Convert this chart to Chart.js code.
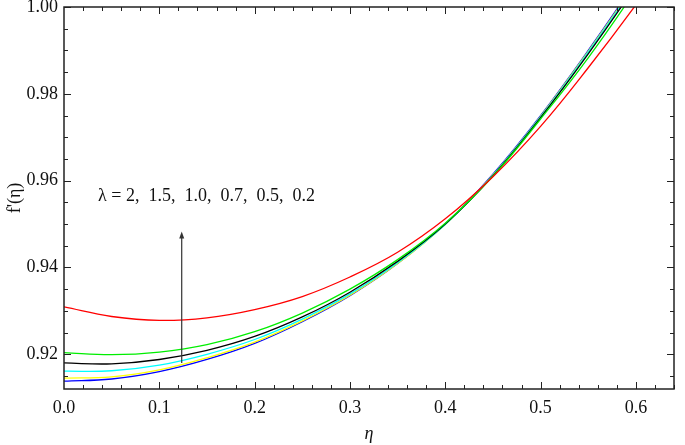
<!DOCTYPE html>
<html><head><meta charset="utf-8">
<script src="https://cdn.jsdelivr.net/npm/chart.js@4/dist/chart.umd.min.js"></script>
<style>html,body{margin:0;padding:0;background:#fff}</style>
</head><body>
<canvas id="c" width="685" height="445"></canvas>
<script>
// eta grid (x values)
const eta = [0, 0.05, 0.10, 0.15, 0.20, 0.25, 0.30, 0.35, 0.40, 0.45, 0.50, 0.55, 0.60, 0.65];
// f'(eta) for each lambda
const lam02 = [0.9309, 0.9287, 0.9278, 0.9284, 0.9303, 0.9333, 0.9378, 0.9435, 0.9512, 0.9609, 0.9725, 0.9860, 1.0005, 1.0160]; // red
const lam05 = [0.9204, 0.9199, 0.9205, 0.9222, 0.9252, 0.9295, 0.9350, 0.9418, 0.9502, 0.9610, 0.9742, 0.9883, 1.0040, 1.0210]; // green
const lam07 = [0.9180, 0.9178, 0.9188, 0.9209, 0.9241, 0.9286, 0.9343, 0.9414, 0.9500, 0.9611, 0.9745, 0.9892, 1.0050, 1.0220]; // black
const lam10 = [0.9161, 0.9162, 0.9175, 0.9200, 0.9234, 0.9281, 0.9339, 0.9411, 0.9499, 0.9612, 0.9747, 0.9896, 1.0054, 1.0225]; // cyan
const lam15 = [0.9145, 0.9148, 0.9164, 0.9192, 0.9228, 0.9277, 0.9336, 0.9409, 0.9499, 0.9613, 0.9748, 0.9898, 1.0057, 1.0228]; // yellow
const lam20 = [0.9138, 0.9143, 0.9160, 0.9188, 0.9225, 0.9275, 0.9335, 0.9409, 0.9500, 0.9615, 0.9750, 0.9900, 1.0060, 1.0230]; // blue
const xTicks = [0.0, 0.1, 0.2, 0.3, 0.4, 0.5, 0.6];
const yTicks = [0.92, 0.94, 0.96, 0.98, 1.00];
const annoText = 'λ = 2,  1.5,  1.0,  0.7,  0.5,  0.2';

const series = [
  {label: 'λ = 0.2', data: lam02, color: '#ff0000'},
  {label: 'λ = 0.5', data: lam05, color: '#00ee00'},
  {label: 'λ = 0.7', data: lam07, color: '#000000'},
  {label: 'λ = 1.0', data: lam10, color: '#00ffff'},
  {label: 'λ = 1.5', data: lam15, color: '#ffff00'},
  {label: 'λ = 2',   data: lam20, color: '#0000ff'}
];

const FONT = "'Liberation Serif', 'Times New Roman', serif";
const FS = 18;

const framePlugin = {
  id: 'frame',
  afterDatasetsDraw(chart) {
    const {ctx, chartArea: a, scales: {x, y}} = chart;
    ctx.save();
    ctx.strokeStyle = '#222';
    ctx.lineWidth = 1;
    ctx.beginPath();
    for (let i = 1; i <= 32; i++) {
      const v = i * 0.02;
      const px = Math.round(x.getPixelForValue(v)) + 0.5;
      const L = (i % 5 === 0) ? 7 : 4;
      ctx.moveTo(px, a.bottom); ctx.lineTo(px, a.bottom - L);
      ctx.moveTo(px, a.top); ctx.lineTo(px, a.top + L);
    }
    for (let i = 183; i <= 200; i++) {
      const v = i * 0.005;
      const py = Math.round(y.getPixelForValue(v)) + 0.5;
      const L = (i % 4 === 0) ? 7 : 4;
      ctx.moveTo(a.left, py); ctx.lineTo(a.left + L, py);
      ctx.moveTo(a.right, py); ctx.lineTo(a.right - L, py);
    }
    ctx.stroke();
    ctx.lineWidth = 1.5;
    ctx.strokeRect(a.left, a.top, a.right - a.left, a.bottom - a.top);
    // arrow annotation
    const ax = x.getPixelForValue(0.1235);
    const y0 = y.getPixelForValue(0.9180);
    const y1 = y.getPixelForValue(0.9483);
    ctx.strokeStyle = '#333';
    ctx.fillStyle = '#333';
    ctx.lineWidth = 1.2;
    ctx.beginPath(); ctx.moveTo(ax, y0); ctx.lineTo(ax, y1 + 5); ctx.stroke();
    ctx.beginPath(); ctx.moveTo(ax, y1); ctx.lineTo(ax - 2.5, y1 + 7); ctx.lineTo(ax + 2.5, y1 + 7); ctx.closePath(); ctx.fill();
    ctx.fillStyle = '#111';
    ctx.font = FS + 'px ' + FONT;
    ctx.textBaseline = 'middle';
    ctx.textAlign = 'left';
    ctx.fillText(annoText, x.getPixelForValue(0.0357), y.getPixelForValue(0.9565));
    ctx.restore();
  }
};

new Chart(document.getElementById('c'), {
  type: 'line',
  data: {
    datasets: series.map(s => ({
      label: s.label,
      data: eta.map((e, i) => ({x: e, y: s.data[i]})),
      borderColor: s.color,
      backgroundColor: s.color,
      borderWidth: 1.3,
      pointRadius: 0,
      tension: 0.4,
      fill: false
    }))
  },
  options: {
    responsive: false,
    animation: false,
    devicePixelRatio: 1,
    layout: {padding: {top: 7, right: 11, left: 0, bottom: 0}},
    plugins: {legend: {display: false}, tooltip: {enabled: false}},
    scales: {
      x: {
        type: 'linear', min: 0, max: 0.64,
        grid: {display: false, drawTicks: false},
        border: {display: false},
        afterBuildTicks: s => { s.ticks = xTicks.map(v => ({value: v})); },
        afterFit: s => { s.height = 56; s.paddingLeft = 0; s.paddingRight = 0; },
        ticks: {padding: 8, color: '#111', font: {family: FONT, size: FS},
                callback: v => Number(v).toFixed(1)},
        title: {display: true, text: 'η', color: '#111', padding: {top: 0, bottom: 0},
                font: {family: FONT, size: FS, style: 'italic'}}
      },
      y: {
        type: 'linear', min: 0.912, max: 1.0,
        grid: {display: false, drawTicks: false},
        border: {display: false},
        afterBuildTicks: s => { s.ticks = yTicks.map(v => ({value: v})); },
        afterFit: s => { s.width = 64; s.paddingTop = 0; s.paddingBottom = 0; },
        ticks: {padding: 6, color: '#111', font: {family: FONT, size: FS},
                callback: v => Number(v).toFixed(2)},
        title: {display: true, text: "f'(η)", color: '#111', padding: {top: 4, bottom: 0},
                font: {family: FONT, size: FS}}
      }
    }
  },
  plugins: [framePlugin]
});
</script>
</body></html>
